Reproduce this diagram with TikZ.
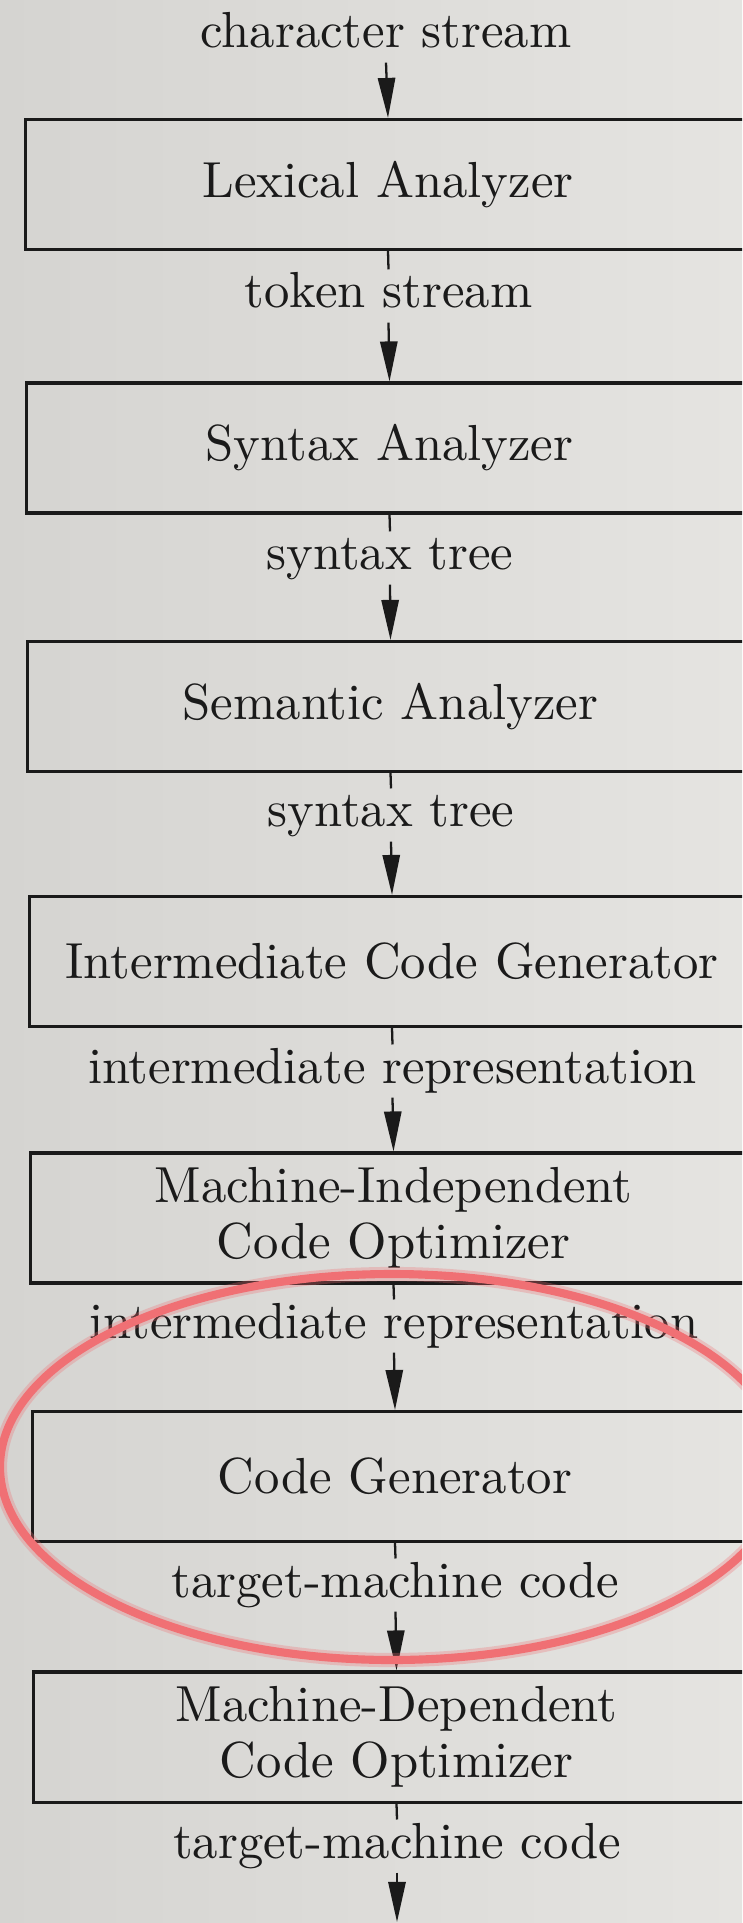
\documentclass[tikz,border=0pt]{standalone}
\usetikzlibrary{arrows.meta}
\definecolor{paperL}{RGB}{213,212,209}
\definecolor{paperR}{RGB}{229,228,225}
\definecolor{ink}{RGB}{26,26,26}
\definecolor{marker}{RGB}{240,112,116}
\begin{document}
\begin{tikzpicture}[x=0.1973pt,y=-0.1973pt,
  stage/.style={draw=ink,line width=0.6pt,minimum width=143.2pt,minimum height=25.65pt,
    inner sep=0pt,align=center,text=ink,font=\fontsize{10}{11.1}\selectfont},
  flowlabel/.style={text=ink,anchor=base,text height=7.4pt,text depth=2.7pt,
    inner ysep=0pt,inner xsep=1pt,font=\fontsize{10}{12}\selectfont},
  link/.style={draw=ink,line width=0.45pt},
  flow/.style={link,-{Triangle[length=7.9pt,width=3.4pt]}},
  hoop/.style={draw=marker,line width=1.6pt,line cap=round},
  hoophalo/.style={draw=marker,line width=2.8pt,opacity=0.3}]
\useasboundingbox (0,0) rectangle (742,1923);
\shade[left color=paperL,right color=paperR] (0,0) rectangle (742,1923);
\clip (0,0) rectangle (742,1923);

% labels
\node[flowlabel] (l0) at (386,48) {character stream};
\node[flowlabel] (l1) at (388.5,308) {token stream};
\node[flowlabel] (l2) at (390,570) {syntax tree};
\node[flowlabel] (l3) at (391,827) {syntax tree};
\node[flowlabel] (l4) at (392.5,1083) {intermediate representation};
\node[flowlabel] (l5) at (394,1338) {intermediate representation};
\node[flowlabel] (l6) at (395.5,1597) {target-machine code};
\node[flowlabel] (l7) at (397,1858) {target-machine code};
\coordinate (out) at (397,1922);

% stages
\node[stage] (b1) at (388,184.5) {Lexical Analyzer};
\node[stage] (b2) at (389.5,448) {Syntax Analyzer};
\node[stage] (b3) at (390.5,706.5) {Semantic Analyzer};
\node[stage] (b4) at (392,961.5) {Intermediate Code Generator};
\node[stage] (b5) at (393.5,1218) {Machine-Independent\\Code Optimizer};
\node[stage] (b6) at (395,1476.5) {Code Generator};
\node[stage] (b7) at (396.5,1737) {Machine-Dependent\\Code Optimizer};

% connectors
\draw[flow] (l0.south) -- (b1.north);
\draw[link] (b1.south) -- (l1.north);
\draw[flow] (l1.south) -- (b2.north);
\draw[link] (b2.south) -- (l2.north);
\draw[flow] (l2.south) -- (b3.north);
\draw[link] (b3.south) -- (l3.north);
\draw[flow] (l3.south) -- (b4.north);
\draw[link] (b4.south) -- (l4.north);
\draw[flow] (l4.south) -- (b5.north);
\draw[link] (b5.south) -- (l5.north);
\draw[flow] (l5.south) -- (b6.north);
\draw[link] (b6.south) -- (l6.north);
\draw[flow] (l6.south) -- (b7.north);
\draw[link] (b7.south) -- (l7.north);
\draw[flow] (l7.south) -- (out);

% red marker ellipse
\draw[hoophalo] (392,1467) ellipse [x radius=392, y radius=193];
\draw[hoop] (392,1467) ellipse [x radius=392, y radius=193];
\end{tikzpicture}
\end{document}
